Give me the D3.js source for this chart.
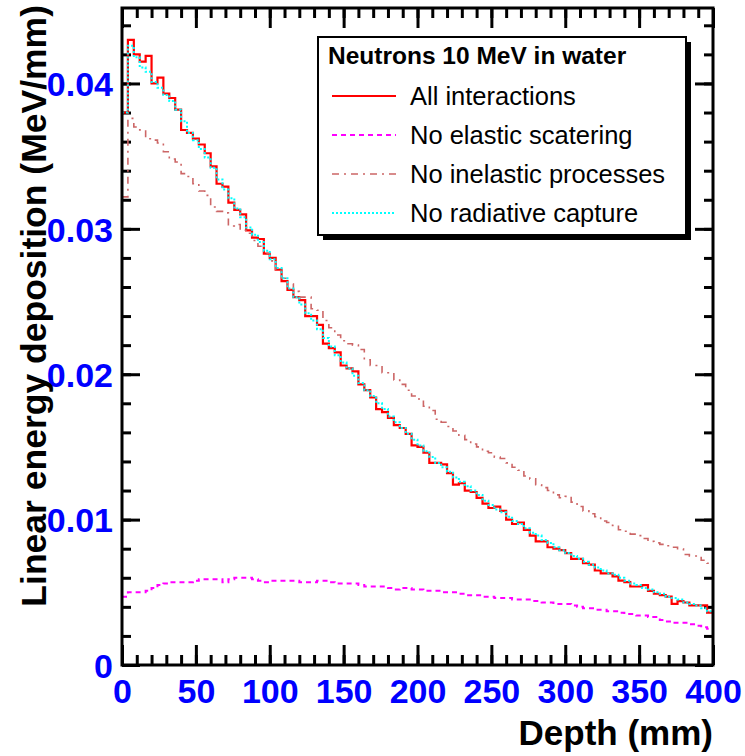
<!DOCTYPE html>
<html>
<head>
<meta charset="utf-8">
<script src="https://cdn.jsdelivr.net/npm/d3@7"></script>
<style>
  body { margin: 0; background: #fff; }
  text { font-family: "Liberation Sans", Arial, Helvetica, sans-serif; }
</style>
</head>
<body>
<div id="chart"></div>
<script>
// histogram bins: 100 bins of 4 mm from 0 to 400 mm
var binWidth = 4;
var xTicks = [0, 50, 100, 150, 200, 250, 300, 350, 400];
var yTicks = [0, 0.01, 0.02, 0.03, 0.04];
var yTickLabels = ["0", "0.01", "0.02", "0.03", "0.04"];

var allInteractions = [
  0.0380, 0.0430, 0.0420, 0.0415, 0.0419, 0.0400, 0.0404, 0.0393, 0.0390, 0.0382,
  0.0368, 0.0366, 0.0362, 0.0358, 0.0352, 0.0343, 0.0331, 0.0329, 0.0318, 0.0313,
  0.0310, 0.0299, 0.0294, 0.0293, 0.0283, 0.0280, 0.0272, 0.0264, 0.0258, 0.0253,
  0.0251, 0.0240, 0.0240, 0.0234, 0.0221, 0.0218, 0.0215, 0.0206, 0.0204, 0.0202,
  0.0193, 0.0189, 0.0184, 0.0176, 0.0174, 0.0170, 0.0165, 0.0163, 0.0159, 0.0151,
  0.0150, 0.0146, 0.0139, 0.0139, 0.0138, 0.0132, 0.0124, 0.0125, 0.0120, 0.0119,
  0.0115, 0.0111, 0.0108, 0.0109, 0.0106, 0.0100, 0.0097, 0.0098, 0.0093, 0.0089,
  0.0085, 0.0085, 0.0081, 0.0080, 0.0079, 0.0077, 0.0073, 0.0073, 0.0070, 0.0069,
  0.0065, 0.0063, 0.0063, 0.0061, 0.0058, 0.0057, 0.0054, 0.0054, 0.0055, 0.0051,
  0.0049, 0.0048, 0.0047, 0.0042, 0.0044, 0.0043, 0.0041, 0.0041, 0.0041, 0.0036
];
var noElastic = [
  0.0047, 0.0050, 0.0050, 0.0050, 0.0051, 0.0053, 0.0055, 0.0056, 0.0057, 0.0057,
  0.0057, 0.0057, 0.0058, 0.0059, 0.0059, 0.0059, 0.0059, 0.0057, 0.0059, 0.0060,
  0.0060, 0.0060, 0.0059, 0.0058, 0.0057, 0.0058, 0.0058, 0.0058, 0.0058, 0.0058,
  0.0057, 0.0057, 0.0057, 0.0058, 0.0058, 0.0057, 0.0056, 0.0056, 0.0056, 0.0056,
  0.0055, 0.0054, 0.0054, 0.0054, 0.0054, 0.0053, 0.0052, 0.0053, 0.0053, 0.0052,
  0.0052, 0.0051, 0.0051, 0.0051, 0.0050, 0.0050, 0.0050, 0.0049, 0.0048, 0.0048,
  0.0048, 0.0047, 0.0047, 0.0046, 0.0046, 0.0046, 0.0045, 0.0045, 0.0045, 0.0044,
  0.0044, 0.0043, 0.0043, 0.0042, 0.0042, 0.0042, 0.0041, 0.0040, 0.0039, 0.0039,
  0.0038, 0.0038, 0.0037, 0.0037, 0.0036, 0.0035, 0.0035, 0.0034, 0.0034, 0.0033,
  0.0033, 0.0031, 0.0030, 0.0029, 0.0029, 0.0029, 0.0028, 0.0027, 0.0026, 0.0025
];
var noInelastic = [
  0.0322, 0.0376, 0.0370, 0.0368, 0.0362, 0.0361, 0.0359, 0.0353, 0.0348, 0.0346,
  0.0338, 0.0336, 0.0331, 0.0326, 0.0323, 0.0315, 0.0312, 0.0311, 0.0302, 0.0303,
  0.0299, 0.0297, 0.0292, 0.0288, 0.0283, 0.0278, 0.0271, 0.0266, 0.0262, 0.0257,
  0.0253, 0.0253, 0.0245, 0.0244, 0.0237, 0.0232, 0.0227, 0.0223, 0.0221, 0.0220,
  0.0217, 0.0210, 0.0206, 0.0206, 0.0201, 0.0201, 0.0196, 0.0193, 0.0189, 0.0185,
  0.0183, 0.0178, 0.0175, 0.0169, 0.0167, 0.0164, 0.0161, 0.0158, 0.0155, 0.0152,
  0.0150, 0.0147, 0.0146, 0.0143, 0.0142, 0.0139, 0.0136, 0.0134, 0.0130, 0.0128,
  0.0124, 0.0122, 0.0120, 0.0117, 0.0115, 0.0116, 0.0112, 0.0109, 0.0106, 0.0104,
  0.0102, 0.0099, 0.0098, 0.0096, 0.0093, 0.0092, 0.0090, 0.0089, 0.0087, 0.0085,
  0.0084, 0.0083, 0.0082, 0.0081, 0.0080, 0.0076, 0.0075, 0.0075, 0.0072, 0.0070
];
var noCapture = [
  0.0380, 0.0426, 0.0418, 0.0411, 0.0408, 0.0401, 0.0397, 0.0392, 0.0388, 0.0382,
  0.0374, 0.0366, 0.0361, 0.0355, 0.0349, 0.0342, 0.0334, 0.0327, 0.0321, 0.0314,
  0.0308, 0.0301, 0.0296, 0.0291, 0.0285, 0.0279, 0.0273, 0.0266, 0.0259, 0.0253,
  0.0248, 0.0242, 0.0237, 0.0231, 0.0225, 0.0219, 0.0213, 0.0208, 0.0204, 0.0199,
  0.0194, 0.0189, 0.0185, 0.0180, 0.0176, 0.0171, 0.0167, 0.0163, 0.0159, 0.0155,
  0.0151, 0.0147, 0.0143, 0.0139, 0.0136, 0.0133, 0.0129, 0.0126, 0.0123, 0.0120,
  0.0117, 0.0113, 0.0110, 0.0107, 0.0105, 0.0102, 0.0099, 0.0097, 0.0094, 0.0091,
  0.0089, 0.0086, 0.0084, 0.0081, 0.0079, 0.0077, 0.0075, 0.0073, 0.0071, 0.0069,
  0.0067, 0.0065, 0.0063, 0.0062, 0.0060, 0.0058, 0.0056, 0.0055, 0.0053, 0.0052,
  0.0050, 0.0049, 0.0047, 0.0046, 0.0045, 0.0043, 0.0042, 0.0041, 0.0039, 0.0037
];

var seriesNames = ["All interactions", "No elastic scatering", "No inelastic processes", "No radiative capture"];
var seriesData = [allInteractions, noElastic, noInelastic, noCapture];
var seriesColors = ["#ff0000", "#ff00ff", "#cc6666", "#00ffff"];
var seriesDash = [null, "5,4", "7,5,2,5", "2,2"];
var seriesWidth = [2.2, 2, 1.6, 2];

var margin = {top: 8, right: 32, bottom: 91, left: 122};
var W = 745, H = 756;
var width = W - margin.left - margin.right;
var height = H - margin.top - margin.bottom;

var svg = d3.select("#chart").append("svg")
    .attr("width", W)
    .attr("height", H);

var g = svg.append("g")
    .attr("transform", "translate(" + margin.left + "," + margin.top + ")");

var x = d3.scaleLinear().domain([0, 400]).range([0, width]);
var y = d3.scaleLinear().domain([0, 0.04519]).range([height, 0]);

var xMinor = d3.range(0, 401, 10);
var yMinor = d3.range(0, 0.0452, 0.002);

// ticks on all four sides, pointing inwards
g.append("g").attr("transform", "translate(0," + height + ")")
    .call(d3.axisBottom(x).tickValues(xMinor).tickSize(-10).tickFormat(""));
g.append("g").attr("transform", "translate(0," + height + ")").attr("class", "xlab")
    .call(d3.axisBottom(x).tickValues(xTicks).tickSize(-20).tickPadding(14).tickFormat(d3.format("d")));
g.append("g")
    .call(d3.axisTop(x).tickValues(xMinor).tickSize(-10).tickFormat(""));
g.append("g")
    .call(d3.axisTop(x).tickValues(xTicks).tickSize(-20).tickFormat(""));

g.append("g")
    .call(d3.axisLeft(y).tickValues(yMinor).tickSize(-9).tickFormat(""));
g.append("g").attr("class", "ylab")
    .call(d3.axisLeft(y).tickValues(yTicks).tickSize(-18).tickPadding(9)
        .tickFormat(function(d, i) { return yTickLabels[i]; }));
g.append("g").attr("transform", "translate(" + width + ",0)")
    .call(d3.axisRight(y).tickValues(yMinor).tickSize(-9).tickFormat(""));
g.append("g").attr("transform", "translate(" + width + ",0)")
    .call(d3.axisRight(y).tickValues(yTicks).tickSize(-18).tickFormat(""));

g.selectAll(".domain").remove();
g.selectAll(".tick line").attr("stroke", "#000").attr("stroke-width", 3);
g.selectAll(".xlab text, .ylab text")
    .attr("fill", "#0000ff")
    .attr("font-size", "34px")
    .attr("font-weight", "bold")
    .attr("font-family", "'Liberation Sans', Arial, sans-serif");
g.selectAll(".ylab text").attr("dy", "0.36em");

// histograms drawn as steps
var line = d3.line()
    .x(function(d) { return x(d[0]); })
    .y(function(d) { return y(d[1]); })
    .curve(d3.curveStepAfter);

seriesData.forEach(function(vals, k) {
    var pts = vals.map(function(v, i) { return [i * binWidth, v]; });
    pts.push([vals.length * binWidth, vals[vals.length - 1]]);
    var p = g.append("path")
        .datum(pts)
        .attr("d", line)
        .attr("fill", "none")
        .attr("stroke", seriesColors[k])
        .attr("stroke-width", seriesWidth[k]);
    if (seriesDash[k]) p.attr("stroke-dasharray", seriesDash[k]);
});

// frame
g.append("rect")
    .attr("width", width).attr("height", height)
    .attr("fill", "none").attr("stroke", "#000").attr("stroke-width", 3);

// legend
var lg = svg.append("g").attr("transform", "translate(318,37)");
lg.append("rect").attr("x", 5).attr("y", 5).attr("width", 368).attr("height", 198).attr("fill", "#000");
lg.append("rect").attr("width", 368).attr("height", 198)
    .attr("fill", "#fff").attr("stroke", "#000").attr("stroke-width", 2);
lg.append("text").attr("x", 10).attr("y", 27)
    .attr("font-size", "24.5px").attr("font-weight", "bold")
    .text("Neutrons 10 MeV in water");
seriesNames.forEach(function(name, k) {
    var yy = 59 + k * 39;
    var l = lg.append("line")
        .attr("x1", 14).attr("x2", 78).attr("y1", yy).attr("y2", yy)
        .attr("stroke", seriesColors[k]).attr("stroke-width", seriesWidth[k]);
    if (seriesDash[k]) l.attr("stroke-dasharray", seriesDash[k]);
    lg.append("text").attr("x", 92).attr("y", yy + 9)
        .attr("font-size", "25.5px")
        .text(name);
});

// axis titles
svg.append("text")
    .attr("x", margin.left + width).attr("y", 745)
    .attr("text-anchor", "end")
    .attr("font-size", "35px").attr("font-weight", "bold")
    .text("Depth (mm)");

svg.append("text")
    .attr("transform", "translate(46,5) rotate(-90)")
    .attr("text-anchor", "end")
    .attr("font-size", "35.5px").attr("font-weight", "bold")
    .text("Linear energy deposition (MeV/mm)");
</script>
</body>
</html>
